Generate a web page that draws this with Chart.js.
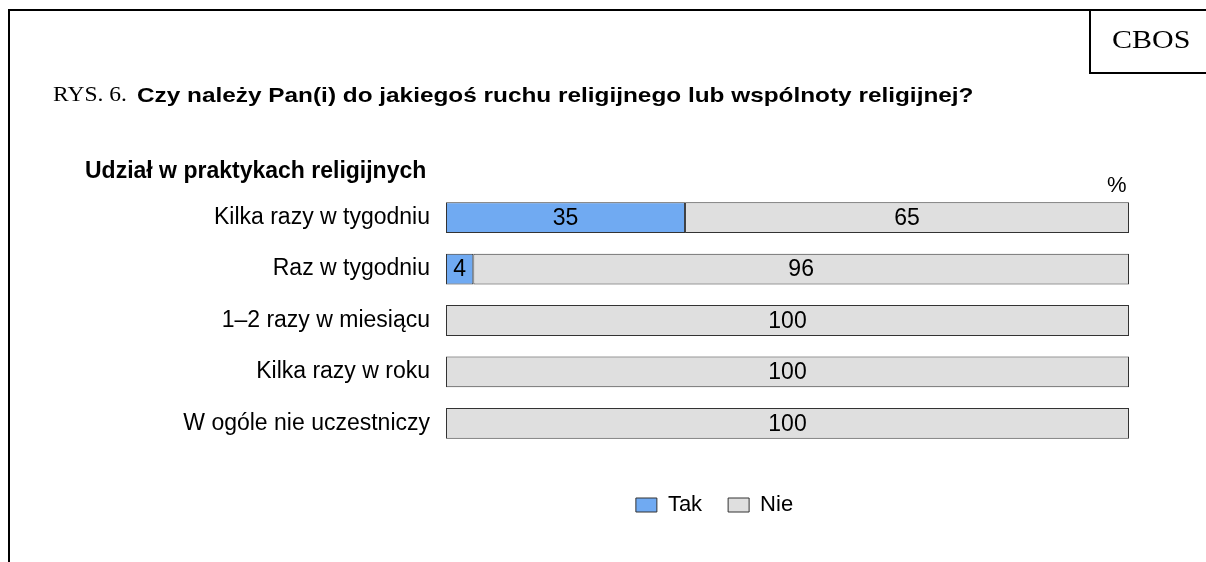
<!DOCTYPE html>
<html>
<head>
<meta charset="utf-8">
<script src="https://cdn.jsdelivr.net/npm/chart.js@4/dist/chart.umd.min.js"></script>
<style>
html,body{margin:0;padding:0;background:#fff;}
#wrap{position:relative;width:1206px;height:562px;overflow:hidden;font-family:'Liberation Sans',Arial,sans-serif;color:#000;}
#chart{position:absolute;left:0;top:0;}
.line{position:absolute;background:#000;}
.txt{position:absolute;white-space:nowrap;transform-origin:0 0;}
</style>
</head>
<body>
<div id="wrap">
  <canvas id="chart" width="1206" height="562"></canvas>
  <div class="line" style="left:8px;top:9px;width:1198px;height:2px;"></div>
  <div class="line" style="left:8px;top:9px;width:2px;height:553px;"></div>
  <div class="line" style="left:1089px;top:9px;width:2px;height:65px;"></div>
  <div class="line" style="left:1089px;top:72px;width:117px;height:2px;"></div>
  <div class="txt" id="cbos" style="left:1112px;top:27px;font-family:'Liberation Serif',serif;font-size:25px;line-height:25px;transform:scaleX(1.2);">CBOS</div>
  <div class="txt" id="rys" style="left:53px;top:84px;font-family:'Liberation Serif',serif;font-size:21px;line-height:21px;transform:scaleX(1.12);">RYS. 6.</div>
  <div class="txt" id="question" style="left:137px;top:84px;font-weight:bold;font-size:21px;line-height:21px;transform:scaleX(1.16);">Czy należy Pan(i) do jakiegoś ruchu religijnego lub wspólnoty religijnej?</div>
  <div class="txt" id="subtitle" style="left:85px;top:159px;font-weight:bold;font-size:23px;line-height:23px;">Udział w praktykach religijnych</div>
  <div class="txt" id="unit" style="left:1107px;top:174px;font-size:22px;line-height:22px;">%</div>
</div>
<script>
const categories = ['Kilka razy w tygodniu', 'Raz w tygodniu', '1–2 razy w miesiącu', 'Kilka razy w roku', 'W ogóle nie uczestniczy'];
const seriesNames = ['Tak', 'Nie'];
const takValues = [35, 4, 0, 0, 0];
const nieValues = [65, 96, 100, 100, 100];

Chart.defaults.font.family = "'Liberation Sans', Arial, sans-serif";
Chart.defaults.color = '#000';

const valueLabels = {
  id: 'valueLabels',
  afterDatasetsDraw(chart) {
    const ctx = chart.ctx;
    ctx.save();
    ctx.font = "23px 'Liberation Sans', Arial, sans-serif";
    ctx.fillStyle = '#000';
    ctx.textAlign = 'center';
    ctx.textBaseline = 'middle';
    chart.data.datasets.forEach((ds, di) => {
      const meta = chart.getDatasetMeta(di);
      meta.data.forEach((bar, i) => {
        const v = ds.data[i];
        if (!v) return;
        const p = bar.getProps(['x', 'base', 'y'], true);
        ctx.fillText(String(v), (p.x + p.base) / 2, p.y + 1);
      });
    });
    ctx.restore();
  }
};

// shift the legend so it is centred where the original places it
const legendShift = {
  id: 'legendShift',
  afterLayout(chart) {
    const lg = chart.legend;
    if (lg) { lg.left += 150; lg.right += 150; }
  }
};

new Chart(document.getElementById('chart'), {
  type: 'bar',
  data: {
    labels: categories,
    datasets: [
      {label: seriesNames[0], data: takValues, backgroundColor: '#70aaf2', borderColor: '#333333', borderWidth: 1, borderSkipped: false, barPercentage: 0.6, categoryPercentage: 1.0},
      {label: seriesNames[1], data: nieValues, backgroundColor: '#dfdfdf', borderColor: '#333333', borderWidth: 1, borderSkipped: false, barPercentage: 0.6, categoryPercentage: 1.0}
    ]
  },
  options: {
    indexAxis: 'y',
    responsive: false,
    animation: false,
    layout: {padding: {left: 0, right: 77, top: 192, bottom: 36}},
    scales: {
      x: {stacked: true, min: 0, max: 100, display: true,
          grid: {display: false, drawTicks: false}, border: {display: false},
          ticks: {display: false},
          afterFit(s) { s.height = 19; }},
      y: {stacked: true,
          grid: {display: false, drawTicks: false}, border: {display: false},
          ticks: {color: '#000', font: {size: 23}, padding: 16},
          afterFit(s) { s.width = 446; }}
    },
    plugins: {
      legend: {position: 'bottom', labels: {boxWidth: 21, boxHeight: 14, padding: 26, color: '#000', font: {size: 22}}},
      tooltip: {enabled: false}
    }
  },
  plugins: [valueLabels, legendShift]
});
</script>
</body>
</html>
